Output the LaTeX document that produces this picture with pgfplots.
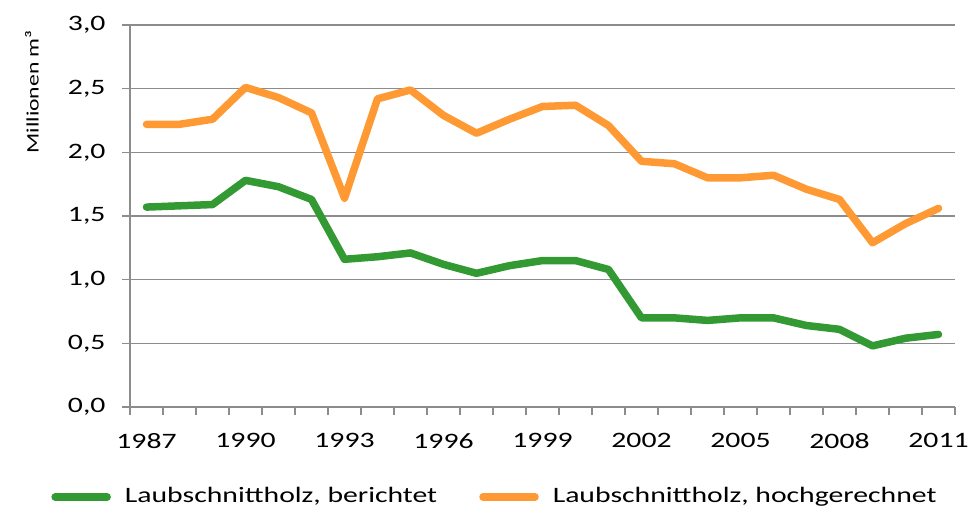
\documentclass[border=0pt]{standalone}
\usepackage{pgfplots}
\pgfplotsset{compat=1.18}
\usepackage{fontspec}
\setmainfont[FakeStretch=1.35]{Carlito}
\definecolor{cgreen}{HTML}{339933}
\definecolor{corange}{HTML}{FF9933}
\definecolor{cgrid}{HTML}{8C8C8C}
\begin{document}
\fontsize{22pt}{26pt}\selectfont
\begin{tikzpicture}
\useasboundingbox (0,0) rectangle (980pt,512pt);
\begin{axis}[
  at={(130pt,105pt)}, anchor=south west,
  scale only axis, width=825pt, height=382pt,
  xmin=1986.5, xmax=2011.5, ymin=0, ymax=3,
  axis lines*=left,
  axis line style={cgrid, line width=1.5pt},
  tick align=outside,
  major tick length=8pt, minor tick length=8pt,
  xtick={1987,1990,...,2011},
  xticklabels={1987,1990,1993,1996,1999,2002,2005,2008,2011},
  minor xtick={1986.5,1987.5,...,2011.5},
  major x tick style={draw=none},
  minor x tick style={cgrid, line width=1.5pt},
  ytick={0,0.5,...,3},
  yticklabels={{0,0},{0,5},{1,0},{1,5},{2,0},{2,5},{3,0}},
  y tick style={cgrid, line width=1.5pt},
  ymajorgrids,
  major grid style={cgrid, line width=1.5pt},
  xticklabel style={yshift=-11pt},
  yticklabel style={xshift=-9pt},
  ylabel={Millionen m³},
  ylabel style={at={(axis description cs:-0.119,0.825)}, anchor=center, font=\fontsize{17.5pt}{20pt}\selectfont},
  legend columns=2,
  legend style={at={(axis description cs:0.4424,-0.2356)}, anchor=center, draw=none, fill=none,
    /tikz/every odd column/.append style={column sep=12pt},
    /tikz/every even column/.append style={column sep=40pt}},
  legend image code/.code={\draw[#1, line cap=round] (0pt,0pt) -- (52pt,0pt);},
  every axis plot/.append style={line width=7.5pt, line cap=round, line join=round},
]
\addplot[cgreen] coordinates {
(1987,1.57) (1988,1.58) (1989,1.59) (1990,1.78) (1991,1.73) (1992,1.63) (1993,1.16) (1994,1.18) (1995,1.21) (1996,1.12) (1997,1.05) (1998,1.11) (1999,1.15) (2000,1.15) (2001,1.08) (2002,0.70) (2003,0.70) (2004,0.68) (2005,0.70) (2006,0.70) (2007,0.64) (2008,0.61) (2009,0.48) (2010,0.54) (2011,0.57)};
\addlegendentry{Laubschnittholz, berichtet}
\addplot[corange] coordinates {
(1987,2.22) (1988,2.22) (1989,2.26) (1990,2.51) (1991,2.43) (1992,2.31) (1993,1.64) (1994,2.42) (1995,2.49) (1996,2.29) (1997,2.15) (1998,2.26) (1999,2.36) (2000,2.37) (2001,2.21) (2002,1.93) (2003,1.91) (2004,1.80) (2005,1.80) (2006,1.82) (2007,1.71) (2008,1.63) (2009,1.29) (2010,1.44) (2011,1.56)};
\addlegendentry{Laubschnittholz, hochgerechnet}
\end{axis}
\end{tikzpicture}
\end{document}
